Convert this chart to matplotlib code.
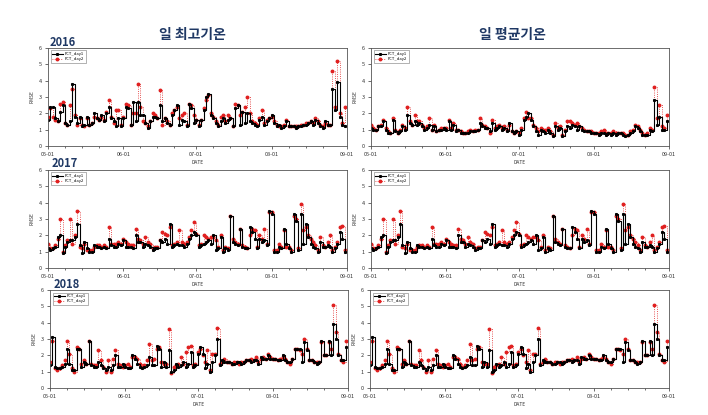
import matplotlib
matplotlib.use('Agg')
import matplotlib.pyplot as plt
import matplotlib.dates as mdates
from matplotlib.ticker import MultipleLocator
import pandas as pd

plt.rcParams['font.family'] = ['Noto Sans CJK KR', 'DejaVu Sans']

# RMSE per day, May 1 .. Aug 31 (123 days)
max16_day1 = [1.6, 2.4, 2.4, 1.7, 1.5, 2.1, 2.5, 1.4, 1.3, 1.5, 3.8, 1.8, 1.4, 1.8, 1.2, 1.3, 1.8, 1.3, 1.4, 2.0,
              1.7, 1.6, 1.9, 1.5, 2.0, 2.4, 1.7, 1.5, 1.2, 1.7, 1.2, 1.7, 2.4, 2.3, 1.3, 2.7, 1.5, 2.7, 1.9, 1.9,
              1.4, 1.1, 1.5, 1.8, 1.8, 1.7, 2.5, 1.5, 1.7, 1.4, 1.3, 1.9, 2.2, 2.5, 1.3, 1.6, 1.5, 1.2, 2.6, 2.3,
              1.4, 1.6, 1.2, 1.6, 2.2, 3.0, 3.2, 1.9, 1.7, 1.4, 1.2, 1.5, 1.7, 1.4, 1.6, 1.7, 1.2, 2.3, 2.5, 1.3,
              2.1, 1.4, 2.0, 1.5, 1.4, 1.3, 1.2, 1.6, 1.8, 1.3, 1.5, 1.7, 1.9, 1.4, 1.2, 1.3, 1.1, 1.2, 1.5, 1.2,
              1.2, 1.2, 1.1, 1.2, 1.2, 1.3, 1.3, 1.4, 1.5, 1.3, 1.6, 1.4, 1.2, 1.1, 1.5, 1.3, 1.3, 3.5, 2.2, 3.9,
              1.8, 1.3, 1.2]
max16_day2 = [1.8, 2.3, 1.8, 1.6, 1.5, 2.6, 2.7, 1.4, 1.3, 2.5, 3.5, 1.9, 1.3, 1.7, 1.3, 1.2, 1.7, 1.3, 1.4, 1.8,
              1.7, 1.6, 1.8, 1.6, 2.1, 2.8, 1.8, 1.4, 2.2, 2.2, 1.3, 1.8, 2.6, 2.5, 1.3, 2.0, 2.0, 3.8, 2.4, 1.5,
              1.4, 1.2, 1.5, 2.0, 1.9, 1.7, 3.4, 1.3, 1.7, 1.5, 1.3, 2.0, 2.2, 2.4, 1.7, 1.9, 2.0, 1.3, 2.6, 2.5,
              1.9, 1.6, 1.3, 1.6, 2.3, 2.8, 3.1, 2.0, 1.8, 1.5, 1.3, 1.8, 1.9, 1.5, 1.9, 1.7, 1.2, 2.6, 2.5, 1.9,
              2.1, 2.4, 3.0, 2.0, 1.5, 1.4, 1.3, 1.7, 2.2, 1.4, 1.6, 1.7, 1.8, 1.5, 1.3, 1.2, 1.2, 1.3, 1.6, 1.2,
              1.2, 1.2, 1.2, 1.2, 1.3, 1.3, 1.4, 1.4, 1.5, 1.4, 1.7, 1.5, 1.3, 1.2, 1.4, 1.3, 1.3, 4.6, 2.4, 5.2,
              2.0, 1.4, 2.4]

mean16_day1 = [1.1, 1.0, 1.0, 1.2, 1.2, 1.5, 1.0, 0.8, 0.8, 1.6, 0.9, 0.8, 0.9, 1.2, 1.0, 1.9, 1.4, 1.3, 1.5, 1.3,
               1.4, 1.2, 1.0, 1.1, 1.3, 1.0, 1.2, 0.9, 1.0, 1.0, 1.1, 1.0, 1.5, 1.0, 1.3, 0.9, 1.0, 0.8, 0.8, 0.8,
               0.8, 0.9, 0.9, 0.9, 1.0, 1.4, 1.2, 1.1, 1.1, 0.9, 1.4, 1.0, 1.1, 1.2, 1.0, 1.1, 0.9, 1.4, 0.9, 0.8,
               0.9, 0.7, 1.0, 1.6, 1.8, 2.0, 1.6, 1.2, 0.9, 0.7, 1.0, 0.9, 0.8, 1.0, 0.8, 0.6, 1.2, 1.0, 1.1, 0.6,
               0.9, 1.2, 1.1, 1.3, 1.2, 1.0, 1.2, 1.0, 0.9, 0.9, 0.9, 0.8, 0.8, 0.8, 0.7, 0.8, 0.8, 0.7, 0.8, 0.7,
               0.8, 0.7, 0.8, 0.8, 0.7, 0.6, 0.7, 0.8, 0.9, 1.2, 1.1, 0.9, 0.7, 0.7, 0.7, 1.0, 0.9, 2.8, 1.3, 1.8,
               1.0, 1.0, 1.5]
mean16_day2 = [1.3, 1.1, 1.0, 1.2, 1.3, 1.6, 1.1, 0.9, 0.8, 1.7, 1.0, 0.8, 1.0, 1.3, 1.1, 2.4, 1.5, 1.3, 1.9, 1.5,
               1.5, 1.3, 1.1, 1.2, 1.7, 1.0, 1.3, 0.9, 1.0, 1.1, 1.1, 1.1, 1.6, 1.1, 1.4, 1.0, 1.0, 0.9, 0.8, 0.8,
               0.9, 1.0, 0.9, 1.0, 1.0, 1.7, 1.3, 1.2, 1.1, 0.8, 1.6, 1.1, 1.2, 1.3, 1.1, 1.2, 1.0, 1.3, 0.9, 0.8,
               0.9, 0.8, 1.1, 1.7, 2.1, 1.7, 1.7, 1.3, 1.1, 0.9, 1.1, 1.0, 1.0, 1.1, 0.9, 0.7, 1.4, 1.1, 1.2, 0.7,
               1.0, 1.5, 1.5, 1.4, 1.3, 1.4, 1.2, 1.1, 1.0, 0.9, 0.9, 0.9, 0.8, 0.8, 0.8, 0.9, 1.0, 0.8, 0.8, 0.8,
               0.9, 0.8, 0.8, 0.8, 0.8, 0.7, 0.7, 0.9, 1.0, 1.3, 1.2, 1.0, 0.8, 0.7, 0.8, 1.1, 1.0, 3.6, 1.7, 2.5,
               1.2, 1.1, 1.9]

y17_day1 = [1.2, 1.1, 1.2, 1.3, 1.9, 2.0, 0.9, 1.3, 1.6, 1.7, 1.7, 1.9, 2.7, 1.4, 0.9, 1.6, 1.2, 1.0, 1.0, 1.4,
            1.3, 1.3, 1.2, 1.3, 1.2, 1.8, 1.4, 1.3, 1.3, 1.5, 1.4, 1.7, 1.3, 1.3, 1.3, 1.2, 2.0, 1.6, 1.6, 1.3,
            1.5, 1.4, 1.3, 1.1, 1.2, 1.2, 1.7, 1.6, 1.8, 1.5, 2.7, 1.3, 1.4, 1.5, 1.4, 1.4, 1.3, 1.5, 1.8, 2.0,
            2.2, 2.0, 1.3, 1.4, 1.5, 1.6, 1.7, 1.5, 2.0, 1.1, 1.2, 1.9, 1.0, 1.2, 1.1, 3.2, 1.6, 1.5, 1.4, 2.4,
            1.3, 1.2, 1.2, 2.5, 2.2, 1.8, 1.2, 1.8, 1.6, 1.7, 1.4, 3.5, 3.3, 1.0, 1.0, 1.3, 1.2, 2.4, 1.5, 1.2,
            1.0, 3.3, 2.9, 1.1, 3.3, 1.5, 2.7, 1.9, 1.5, 1.3, 1.2, 1.0, 1.6, 1.3, 1.3, 1.4, 1.3, 1.0, 1.2, 1.5,
            2.2, 1.8, 1.0]
y17_day2 = [1.5, 1.2, 1.2, 1.4, 1.8, 3.0, 1.0, 1.4, 1.7, 3.0, 1.5, 2.0, 3.5, 1.3, 1.2, 1.5, 1.1, 1.1, 1.1, 1.3,
            1.4, 1.4, 1.3, 1.4, 1.3, 2.5, 1.5, 1.5, 1.5, 1.6, 1.5, 1.8, 1.6, 1.5, 1.4, 1.4, 2.4, 1.8, 1.7, 1.5,
            1.9, 1.6, 1.5, 1.2, 1.3, 1.3, 1.7, 2.2, 2.1, 2.0, 2.5, 1.4, 1.5, 1.6, 2.3, 1.6, 1.5, 1.6, 1.9, 2.3,
            2.8, 2.1, 1.4, 1.5, 2.0, 1.9, 1.8, 1.9, 1.9, 1.7, 1.3, 2.0, 1.1, 1.3, 1.2, 3.2, 1.8, 1.6, 1.5, 2.4,
            1.4, 1.3, 1.2, 2.0, 2.4, 2.3, 1.3, 2.0, 1.8, 2.4, 1.5, 3.4, 3.4, 1.1, 1.1, 1.5, 1.3, 2.3, 1.3, 1.3,
            1.1, 3.2, 3.0, 1.2, 3.9, 2.3, 2.5, 2.0, 1.8, 1.6, 1.4, 1.1, 1.9, 1.4, 1.3, 1.6, 2.0, 1.1, 1.3, 1.6,
            2.5, 2.6, 1.1]

y18_day1 = [1.4, 3.1, 1.3, 1.2, 1.2, 1.3, 1.5, 2.4, 1.5, 1.1, 1.1, 2.4, 2.4, 1.3, 1.6, 1.5, 2.9, 1.4, 1.3, 1.3,
            1.6, 1.4, 1.2, 1.1, 1.3, 1.1, 1.4, 2.0, 1.3, 1.3, 1.5, 1.3, 1.2, 1.2, 2.0, 1.8, 1.5, 1.3, 1.2, 1.3,
            1.4, 1.9, 1.4, 1.4, 2.6, 2.4, 1.3, 1.6, 1.3, 2.3, 1.0, 1.1, 1.5, 1.3, 1.4, 1.6, 1.3, 1.5, 2.2, 1.3,
            1.4, 2.1, 2.5, 2.1, 1.2, 1.5, 1.0, 1.6, 2.0, 3.0, 1.4, 1.7, 1.6, 1.6, 1.6, 1.5, 1.5, 1.6, 1.6, 1.5,
            1.6, 1.7, 1.7, 1.6, 1.7, 1.7, 1.5, 1.9, 1.8, 1.8, 2.0, 1.8, 1.8, 1.8, 1.7, 1.7, 2.0, 1.7, 1.6, 1.6,
            1.8, 2.4, 2.4, 2.4, 1.6, 2.8, 2.3, 1.7, 1.7, 1.6, 1.5, 1.6, 2.9, 2.0, 2.0, 2.9, 2.0, 3.9, 3.0, 2.0,
            1.7, 1.7, 2.5]
y18_day2 = [1.6, 2.9, 1.2, 1.1, 1.2, 1.4, 1.7, 2.9, 2.1, 1.2, 1.0, 2.5, 2.4, 1.5, 1.7, 1.5, 2.9, 1.5, 1.4, 1.4,
            2.3, 1.7, 1.3, 1.0, 1.7, 1.0, 1.8, 2.3, 1.5, 1.4, 1.3, 1.4, 1.5, 1.3, 1.9, 1.9, 1.8, 1.5, 1.3, 1.4,
            1.7, 2.7, 1.7, 1.8, 2.4, 2.5, 1.6, 1.5, 1.5, 3.6, 0.9, 1.3, 1.4, 1.5, 1.9, 1.5, 2.2, 2.5, 2.6, 1.4,
            1.5, 2.2, 2.4, 2.0, 1.6, 2.3, 1.1, 2.1, 2.1, 3.7, 1.5, 1.6, 1.8, 1.6, 1.6, 1.5, 1.6, 1.6, 1.5, 1.6,
            1.6, 1.7, 1.7, 1.8, 1.7, 1.9, 1.6, 1.8, 1.9, 1.8, 2.1, 1.9, 1.8, 1.8, 1.7, 1.8, 1.9, 1.8, 1.6, 1.5,
            1.8, 2.4, 2.4, 2.3, 2.1, 3.0, 2.4, 1.7, 1.7, 1.6, 1.6, 1.6, 2.8, 2.0, 2.0, 2.8, 2.4, 5.1, 3.4, 2.1,
            1.7, 1.6, 2.9]

years = ['2016', '2017', '2018']
col_titles = ['일 최고기온', '일 평균기온']
panels = [
    [(max16_day1, max16_day2), (mean16_day1, mean16_day2)],
    [(y17_day1, y17_day2), (y17_day1, y17_day2)],
    [(y18_day1, y18_day2), (y18_day1, y18_day2)],
]

W, H = 708, 415
# axes boxes in pixels: (left, top, right, bottom)
boxes = [
    [(48, 48, 347, 146), (371, 48, 669, 146)],
    [(48, 170, 347, 268), (371, 170, 669, 268)],
    [(50, 290, 348, 388), (370, 290, 669, 388)],
]
navy = '#1f3864'

fig = plt.figure(figsize=(W / 100, H / 100), dpi=100)

for r, year in enumerate(years):
    dates = pd.date_range(year + '-05-01', periods=123, freq='D')
    for c in range(2):
        l, t, rr, b = boxes[r][c]
        ax = fig.add_axes([l / W, 1 - b / H, (rr - l) / W, (b - t) / H])
        d1, d2 = panels[r][c]
        ax.plot(dates, d2, color='#e02020', lw=0.6, ls=':', drawstyle='steps-post',
                marker='o', ms=1.8, mec='#e02020', mfc='#e02020', label='FCT_day2')
        ax.plot(dates, d1, color='black', lw=0.8, drawstyle='steps-post',
                marker='s', ms=1.2, label='FCT_day1')
        ax.set_xlim(pd.Timestamp(year + '-05-01'), pd.Timestamp(year + '-09-01'))
        ax.set_ylim(0, 6)
        ax.yaxis.set_major_locator(MultipleLocator(1))
        ax.xaxis.set_major_locator(mdates.MonthLocator())
        ax.xaxis.set_major_formatter(mdates.DateFormatter('%m-%d'))
        ax.xaxis.set_minor_locator(mdates.DayLocator(bymonthday=[8, 15, 22]))
        ax.tick_params(which='major', labelsize=4, length=2, width=0.5, pad=2.5, colors='#333333')
        ax.tick_params(which='minor', length=1.2, width=0.4)
        for s in ax.spines.values():
            s.set_linewidth(0.6)
            s.set_color('#555555')
        ax.set_ylabel('RMSE', fontsize=3.5, labelpad=3, color='#333333')
        ax.set_xlabel('DATE', fontsize=3.5, labelpad=2, color='#333333')
        h, lab = ax.get_legend_handles_labels()
        ax.legend(h[::-1], lab[::-1], loc='upper left', fontsize=3, frameon=True, fancybox=False,
                  edgecolor='#555555', handlelength=2.5, borderpad=0.4, labelspacing=0.2,
                  handletextpad=0.5, borderaxespad=0.6).get_frame().set_linewidth(0.4)

for c, title in enumerate(col_titles):
    cx = [192, 512][c]
    fig.text(cx / W, 1 - 35 / H, title, ha='center', va='center', fontsize=10,
             fontweight='bold', color=navy)

for r, year in enumerate(years):
    x, y = [(63, 43), (65, 163), (67, 284)][r]
    fig.text(x / W, 1 - y / H, year, ha='center', va='center', fontsize=8,
             fontweight='bold', color=navy)

fig.savefig('out.png', dpi=100)
